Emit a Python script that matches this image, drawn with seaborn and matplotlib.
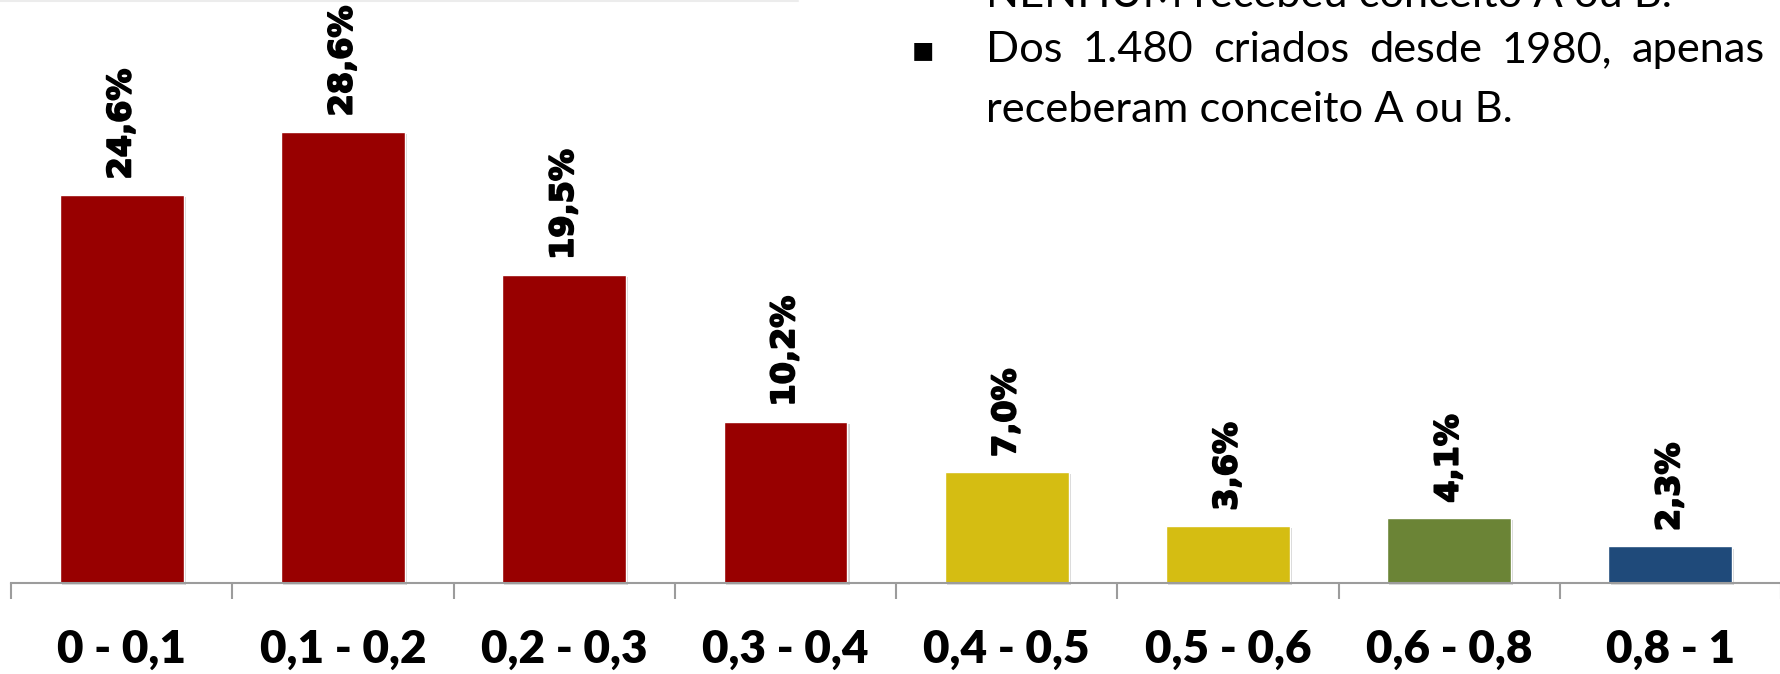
import matplotlib
matplotlib.use("Agg")
import matplotlib.pyplot as plt
from matplotlib import patheffects as pe
from matplotlib.lines import Line2D
import seaborn as sns
import pandas as pd
import numpy as np

# Distribution of programmes by score band
faixas = ["0 - 0,1", "0,1 - 0,2", "0,2 - 0,3", "0,3 - 0,4",
          "0,4 - 0,5", "0,5 - 0,6", "0,6 - 0,8", "0,8 - 1"]
percentuais = [24.6, 28.6, 19.5, 10.2, 7.0, 3.6, 4.1, 2.3]
cores = ["#980000", "#980000", "#980000", "#980000",
         "#D5BD12", "#D5BD12", "#6B8436", "#1F4A7A"]

nota_linha1 = "NENHUM recebeu conceito A ou B."
nota_linha2 = ["Dos", "1.480", "criados", "desde", "1980,", "apenas"]
nota_linha3 = "receberam conceito A ou B."

W, H, DPI = 1781, 674, 100

sns.set_theme(style="white")
plt.rcParams["font.family"] = ["Lato", "DejaVu Sans"]

fig = plt.figure(figsize=(W / DPI, H / DPI), dpi=DPI)
fig.patch.set_facecolor("white")
ax = fig.add_axes([0, 0, 1, 1])
ax.set_facecolor("white")

df = pd.DataFrame({"faixa": faixas, "pct": percentuais})
sns.barplot(data=df, x="faixa", y="pct", hue="faixa", palette=cores,
            saturation=1, width=0.56, legend=False, ax=ax)

# soft drop shadow under each bar
for p in ax.patches:
    p.set_path_effects([
        pe.SimplePatchShadow(offset=(1.5, -1.5), shadow_rgbFace=(0.45, 0.45, 0.45), alpha=0.3),
        pe.Normal(),
    ])

ax.set_xlim(-0.551, 7.464)
ax.set_ylim(-5.79, 36.95)
ax.set_xlabel("")
ax.set_ylabel("")
ax.set_yticks([])

for side in ("left", "top", "right"):
    ax.spines[side].set_visible(False)
axis_grey = "#9c9c9c"
ax.spines["bottom"].set_position(("data", 0))
ax.spines["bottom"].set_bounds(-0.5, 7.5)
ax.spines["bottom"].set_color(axis_grey)
ax.spines["bottom"].set_linewidth(1.5)

# category separators as major ticks, labels on minor ticks at bar centres
ax.set_xticks(np.arange(-0.5, 8.0, 1.0))
ax.set_xticklabels([])
ax.set_xticks(np.arange(len(faixas)), minor=True)
ax.set_xticklabels(faixas, minor=True, fontweight=800, fontsize=33, color="black")
ax.tick_params(axis="x", which="major", bottom=True, length=11.5, width=1.5,
               color=axis_grey, direction="out")
ax.tick_params(axis="x", which="minor", bottom=True, length=0, pad=33)

# value labels above the bars (thin stroke for a heavier look)
for i, v in enumerate(percentuais):
    rotulo = f"{v:.1f}".replace(".", ",") + "%"
    ax.annotate(rotulo, xy=(i, v), xytext=(0, 11), textcoords="offset points",
                rotation=90, ha="center", va="bottom", fontsize=23,
                fontweight="bold", color="black", family="DejaVu Sans",
                path_effects=[pe.withStroke(linewidth=1.3, foreground="black")])

# bullet note in the upper right
def fx(px):
    return px / W

def fy(py):
    return 1 - py / H

renderer = fig.canvas.get_renderer()
left_px, right_px = 986, 1765

linha3 = fig.text(fx(left_px), fy(122), nota_linha3, fontsize=30,
                  ha="left", va="baseline", color="black")
w3 = linha3.get_window_extent(renderer).width
tam = 30 * 527 / w3
linha3.set_fontsize(tam)

fig.text(fx(left_px), fy(7), nota_linha1, fontsize=tam,
         ha="left", va="baseline", color="black")

palavras = [fig.text(0, fy(62), p, fontsize=tam, ha="left", va="baseline", color="black")
            for p in nota_linha2]
larguras = [t.get_window_extent(renderer).width for t in palavras]
espaco = (right_px - left_px - sum(larguras)) / (len(palavras) - 1)
x = left_px
for t, lw in zip(palavras, larguras):
    t.set_x(fx(x))
    x += lw + espaco

fig.text(fx(923.5), fy(50), "\u25aa", family="DejaVu Sans", fontsize=26,
         ha="center", va="center", color="black")

# faint edge of the box above the chart
fig.add_artist(Line2D([0, fx(798)], [fy(1), fy(1)], transform=fig.transFigure,
                      color="#ececec", lw=1.5))

fig.savefig("out.png", dpi=DPI, facecolor="white")
